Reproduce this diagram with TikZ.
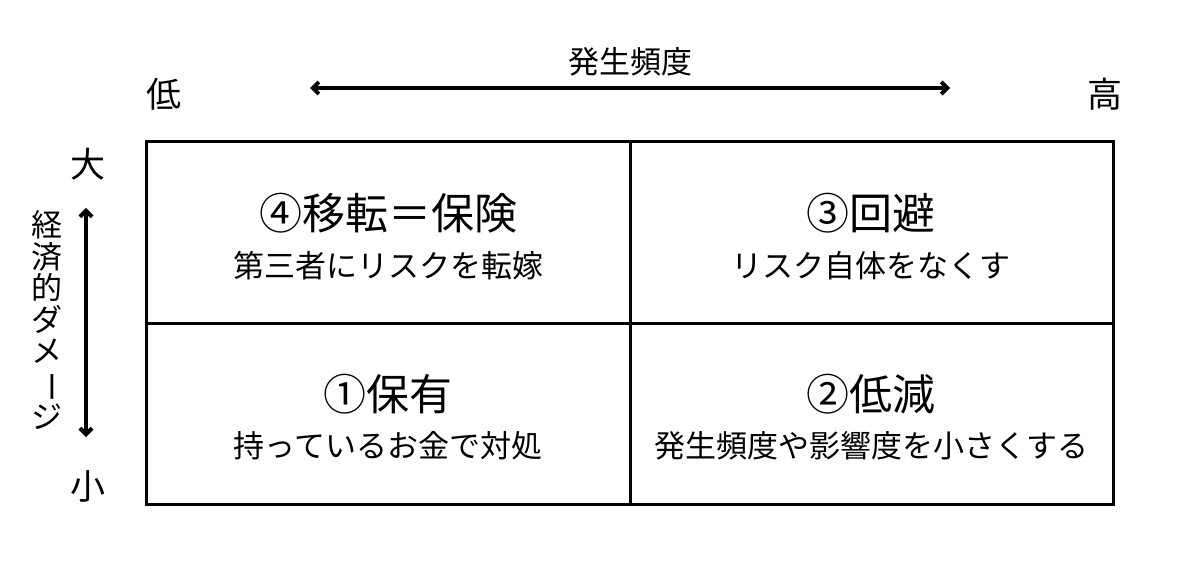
\documentclass[tikz,border=0pt]{standalone}
\usepackage{fontspec}
\setmainfont{Noto Sans CJK JP}
\usetikzlibrary{arrows.meta}
\tikzset{
  grid/.style={line width=3pt},
  axisarrow/.style={line width=4pt,{Straight Barb[length=6pt,width=12pt]}-{Straight Barb[length=6pt,width=12pt]}},
  title/.style={font=\fontsize{43}{47}\selectfont,inner sep=0pt},
  sub/.style={font=\fontsize{31}{35}\selectfont,inner sep=0pt},
  axlabel/.style={font=\fontsize{35}{38}\selectfont,inner sep=0pt},
  axname/.style={font=\fontsize{31}{34}\selectfont,inner sep=0pt},
}
\begin{document}
\begin{tikzpicture}[x=1pt,y=-1pt]
\useasboundingbox (0,0) rectangle (1200,564);
\fill[white] (0,0) rectangle (1200,564);
% grid
\coordinate (tl) at (146,142);
\coordinate (br) at (1113,504);
\draw[grid] (tl) rectangle (br);
\coordinate (vt) at (630,142);
\coordinate (vb) at (630,504);
\coordinate (hl) at (146,323);
\coordinate (hr) at (1113,323);
\draw[grid] (vt) -- (vb);
\draw[grid] (hl) -- (hr);
% horizontal axis
\node[axname] (freq) at (630,62) {発生頻度};
\node[axlabel] (low) at (164,94) {低};
\node[axlabel] (high) at (1105,94) {高};
\coordinate (ha) at (310,88);
\coordinate (hb) at (950,88);
\draw[axisarrow] (ha) -- (hb);
% vertical axis
\node[axlabel] (big) at (88,164) {大};
\node[axlabel] (small) at (88,486) {小};
\coordinate (va) at (86,208);
\coordinate (vb2) at (86,437);
\draw[axisarrow] (va) -- (vb2);
\node[axname,align=center,font=\fontsize{31}{31.5}\selectfont] (dmg) at (47,320) {経\\済\\的\\ダ\\メ\\\rotatebox[origin=c]{-90}{ー}\\ジ};
% cells
\node[title] (t4) at (388,213) {④移転＝保険};
\node[sub] (s4) at (388,266) {第三者にリスクを転嫁};
\node[title] (t3) at (871,213) {③回避};
\node[sub] (s3) at (871,266) {リスク自体をなくす};
\node[title] (t1) at (388,394) {①保有};
\node[sub] (s1) at (388,446) {持っているお金で対処};
\node[title] (t2) at (871,394) {②低減};
\node[sub] (s2) at (871,446) {発生頻度や影響度を小さくする};
\end{tikzpicture}
\end{document}
